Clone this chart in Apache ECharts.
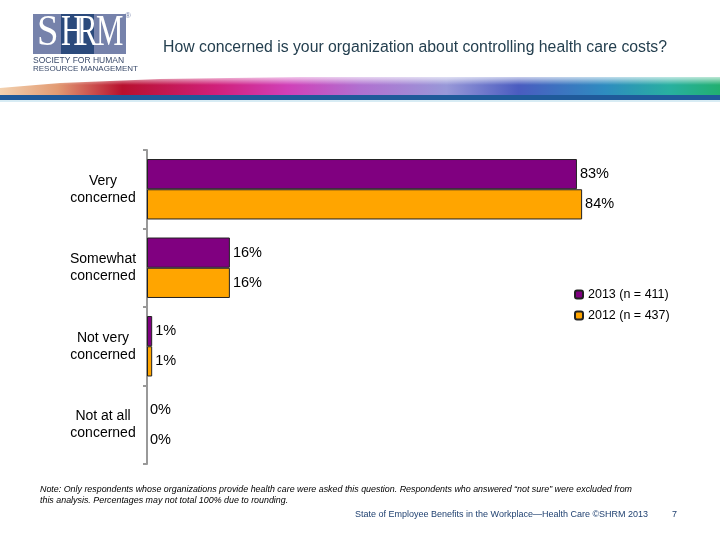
<!DOCTYPE html>
<html>
<head>
<meta charset="utf-8">
<script src="https://cdn.jsdelivr.net/npm/echarts@6/dist/echarts.min.js"></script>
<style>html,body{margin:0;padding:0;background:#fff}#c{width:720px;height:540px}</style>
</head>
<body>
<div id="c"></div>
<script>
var categories = ['Very\nconcerned', 'Somewhat\nconcerned', 'Not very\nconcerned', 'Not at all\nconcerned'];
var series2013 = [83, 16, 1, 0];
var series2012 = [84, 16, 1, 0];
var seriesNames = ['2013 (n = 411)', '2012 (n = 437)'];
var titleText = 'How concerned is your organization about controlling health care costs?';
var noteLines = ['Note: Only respondents whose organizations provide health care were asked this question. Respondents who answered \u201cnot sure\u201d were excluded from',
                 'this analysis. Percentages may not total 100% due to rounding.'];
var footerText = 'State of Employee Benefits in the Workplace\u2014Health Care \u00a9SHRM 2013';
var pageNum = '7';

var chart = echarts.init(document.getElementById('c'));
var font = 'Liberation Sans, Arial, sans-serif';
var labelCfg = {show: true, position: 'right', distance: 3, formatter: '{c}%', color: '#000', fontSize: 14.5, fontFamily: font};
function toData(arr) {
  return arr.map(function (v) { return v === 0 ? {value: v, itemStyle: {borderWidth: 0}} : v; });
}
var serif = '44px Liberation Serif, Times New Roman, serif';
function letter(ch, x, sx) {
  return {type: 'text', x: x, y: 11, scaleX: sx, style: {text: ch, fill: '#fff', font: serif, align: 'left', verticalAlign: 'top'}};
}

chart.setOption({
  animation: false,
  title: {text: titleText, left: 158, top: 35, textStyle: {color: '#243f4f', fontSize: 15.8, fontWeight: 'normal', fontFamily: font}},
  legend: {orient: 'vertical', left: 574, top: 288, padding: 0, itemWidth: 8, itemHeight: 8, itemGap: 8,
    data: seriesNames, textStyle: {fontSize: 12.5, color: '#000', fontFamily: font}},
  grid: {left: 147, top: 150, width: 518, height: 314, containLabel: false},
  xAxis: {type: 'value', min: 0, max: 100, show: false},
  yAxis: {type: 'category', data: categories, inverse: true,
    axisLine: {lineStyle: {color: '#999', width: 2}},
    axisTick: {show: true, length: 4, lineStyle: {color: '#999', width: 2}},
    axisLabel: {align: 'center', margin: 44, color: '#000', fontSize: 14, lineHeight: 17, fontFamily: font}
  },
  series: [
    {name: seriesNames[0], type: 'bar', data: toData(series2013), barGap: '0%', barCategoryGap: '23%',
     itemStyle: {color: '#800080', borderColor: '#222', borderWidth: 1}, label: labelCfg},
    {name: seriesNames[1], type: 'bar', data: toData(series2012),
     itemStyle: {color: '#FFA500', borderColor: '#222', borderWidth: 1}, label: labelCfg}
  ],
  graphic: [
    // decorative band
    {type: 'polygon', shape: {points: [[0, 96], [0, 88], [60, 83], [160, 79], [300, 77], [720, 77], [720, 96]]},
     style: {fill: new echarts.graphic.LinearGradient(0, 0, 1, 0, [
       {offset: 0, color: '#f3d2b0'}, {offset: 0.08, color: '#e29a72'}, {offset: 0.17, color: '#b8102e'},
       {offset: 0.3, color: '#d0207a'}, {offset: 0.4, color: '#d040b8'}, {offset: 0.5, color: '#b070d0'},
       {offset: 0.62, color: '#9898d8'}, {offset: 0.72, color: '#4a5cc0'}, {offset: 0.84, color: '#2e8cc0'},
       {offset: 0.93, color: '#28b0a0'}, {offset: 1, color: '#22b070'}])}},
    {type: 'rect', shape: {x: 0, y: 77, width: 720, height: 8},
     style: {fill: new echarts.graphic.LinearGradient(0, 0, 0, 1, [
       {offset: 0, color: 'rgba(255,255,255,0.7)'}, {offset: 1, color: 'rgba(255,255,255,0)'}])}},
    {type: 'rect', shape: {x: 0, y: 95, width: 720, height: 5}, style: {fill: '#1f5a9a'}},
    {type: 'rect', shape: {x: 0, y: 100, width: 720, height: 2}, style: {fill: '#d8ecf4'}},
    // logo
    {type: 'rect', shape: {x: 33, y: 14, width: 93, height: 40}, style: {fill: '#7682ab'}},
    {type: 'rect', shape: {x: 61, y: 14, width: 33, height: 40}, style: {fill: '#2b4a7c'}},
    letter('S', 37, 0.88), letter('H', 61, 0.7), letter('R', 77, 0.7), letter('M', 96, 0.7),
    {type: 'text', left: 125, top: 12, style: {text: '\u00ae', fill: '#7682ab', font: '8px Liberation Sans, Arial, sans-serif'}},
    {type: 'text', left: 33, top: 56, style: {text: 'SOCIETY FOR HUMAN', fill: '#3a4a6a', font: '8.5px Liberation Sans, Arial, sans-serif'}},
    {type: 'text', left: 33, top: 65, style: {text: 'RESOURCE MANAGEMENT', fill: '#3a4a6a', font: '8px Liberation Sans, Arial, sans-serif'}},
    // note and footer
    {type: 'text', left: 40, top: 485, style: {text: noteLines[0], fill: '#000', font: 'italic 8.9px Liberation Sans, Arial, sans-serif'}},
    {type: 'text', left: 40, top: 496, style: {text: noteLines[1], fill: '#000', font: 'italic 8.9px Liberation Sans, Arial, sans-serif'}},
    {type: 'text', left: 355, top: 510, style: {text: footerText, fill: '#1f4070', font: '9px Liberation Sans, Arial, sans-serif'}},
    {type: 'text', left: 672, top: 510, style: {text: pageNum, fill: '#1f4070', font: '9px Liberation Sans, Arial, sans-serif'}}
  ]
});
</script>
</body>
</html>
